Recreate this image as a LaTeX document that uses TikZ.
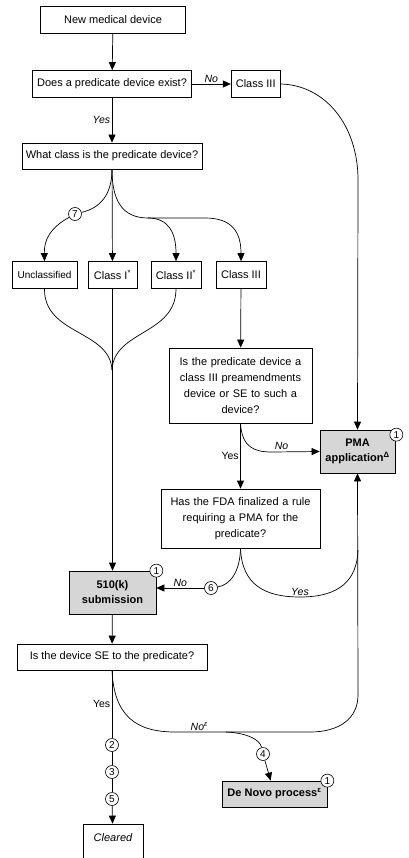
\documentclass[tikz,border=0pt]{standalone}
\usepackage{fontspec}
\setmainfont{Liberation Sans}
\usetikzlibrary{positioning,arrows.meta,calc}

\begin{document}
\begin{tikzpicture}[
    x=1pt, y=-1pt,
    font=\fontsize{11}{13}\selectfont,
    >={Triangle[length=8pt,width=7pt]},
    box/.style     = {rectangle, draw, line width=0.7pt, align=center,
                      minimum height=27pt, inner sep=2pt},
    query/.style   = {box, font=\fontsize{11}{16}\selectfont},
    outcome/.style = {box, fill=black!16, font=\fontsize{11}{15}\selectfont\bfseries},
    flow/.style    = {->, line width=0.7pt},
    link/.style    = {line width=0.7pt},
    tag/.style     = {font=\fontsize{10.5}{12}\selectfont\itshape, inner sep=1.5pt},
    uptag/.style   = {tag, font=\fontsize{10.5}{12}\selectfont\upshape},
    num/.style     = {circle, draw, fill=white, line width=0.6pt, minimum size=13pt,
                      inner sep=0pt, font=\fontsize{10}{12}\selectfont}
]

\clip (0,0) rectangle (408,858);

% --- Main column ----------------------------------------------------------
\node[box, minimum width=145pt]                  (new)   at (113,20)  {New medical device};
\node[box, minimum width=159pt]                  (exist) at (112,84)  {Does a predicate device exist?};
\node[box, minimum width=49pt, right=39pt of exist] (c3top)         {Class III};
\node[box, minimum width=180pt, minimum height=26pt] (what) at (112,156)
  {What class is the predicate device?};

% --- Predicate classes ----------------------------------------------------
\node[box, minimum width=65pt, font=\fontsize{10}{12}\selectfont] (uncl) at (44.5,275) {Unclassified};
\node[box, minimum width=49pt]                   (c1)    at (112.5,275) {Class I\textsuperscript{*}};
\node[box, minimum width=50pt]                   (c2)    at (176,275)   {Class II\textsuperscript{*}};
\node[box, minimum width=50pt]                   (c3mid) at (241,275)   {Class III};

% --- Class III questions --------------------------------------------------
\node[query, text width=139pt, minimum height=75pt] (q1) at (240.5,385.5)
  {Is the predicate device a\\ class III preamendments\\ device or SE to such a\\ device?};
\node[outcome, minimum width=75pt, minimum height=43pt] (pma) at (357.5,451.5)
  {PMA\\ application\textsuperscript{Δ}};
\node[query, text width=155pt, minimum height=59pt] (q2) at (240.5,518.5)
  {Has the FDA finalized a rule\\ requiring a PMA for the\\ predicate?};

% --- 510(k) path ----------------------------------------------------------
\node[outcome, minimum width=87pt, minimum height=43pt] (k510) at (112.5,592.5)
  {510(k)\\ submission};
\node[box, minimum width=190pt, minimum height=26pt] (se) at (112,657)
  {Is the device SE to the predicate?};
\node[outcome, minimum width=105pt, minimum height=26pt] (denovo) at (274.5,794)
  {De Novo process\textsuperscript{ε}};
\node[box, minimum width=60pt, minimum height=44pt, text depth=16pt,
      font=\fontsize{11}{13}\selectfont\itshape] (cleared) at (113,846) {Cleared};

% --- Numbered markers -----------------------------------------------------
\node[num] (seven) at (75,214)  {7};
\node[num] (six)   at (211,588) {6};
\node[num] (four)  at (263,754) {4};
\node[num] (two)   at (112,745) {2};
\node[num] (three) at (112,772) {3};
\node[num] (five)  at (112,799) {5};
\node[num] (pmaone) at ([xshift=1pt,yshift=-5pt]pma.north east) {1};
\node[num] (kone)   at (k510.north east)   {1};
\node[num] (dnone)  at (denovo.north east) {1};

\coordinate (fork)  at (148,218);
\coordinate (join)  at (112,370);
\coordinate (rise)  at (358,695);
\coordinate (split) at (226,732);

% --- Flows ----------------------------------------------------------------
\draw[flow] (new)   -- (exist);
\draw[flow] (exist) -- node[tag, above]{No} (c3top);
\draw[flow] (exist) -- node[tag, left]{Yes} (what);
\draw[flow] (c3top.east) .. controls (325,85) and (358,125) .. (358,180) -- (pma.north);

% branching to the classes
\draw[flow] (what) -- (c1);
\draw[link] (what.south) .. controls (112,195) and (100,208) .. (seven);
\draw[flow] (seven) .. controls (50,228) and (44,240) .. (uncl.north);
\draw[link] (what.south) .. controls (112,200) and (122,218) .. (fork);
\draw[flow] (fork) .. controls (168,218) and (176,232) .. (c2.north);
\draw[flow] (fork) -- (205,218) .. controls (232,218) and (241,232) .. (c3mid.north);

% merging into 510(k)
\draw[link] (uncl.south) .. controls (44,335) and (110,330) .. (join);
\draw[link] (c2.south)   .. controls (176,335) and (114,330) .. (join);
\draw[flow] (c1) -- (k510);

% class III questions
\draw[flow] (c3mid) -- (q1);
\draw[flow] (q1) -- node[uptag, left]{Yes} (q2);
\draw[flow] (q1.south) .. controls (242,448) and (255,452) .. (272,452)
            -- node[tag, above, pos=0.2]{No} (pma.west);
\draw[link] (q2.south) .. controls (240,572) and (230,585) .. (six);
\draw[flow] (six.west) -- node[tag, above]{No} (six.west -| k510.east);
\draw[link] (q2.south) .. controls (242,585) and (265,597) .. (300,597) node[tag, above]{Yes}
            .. controls (340,597) and (357,580) .. (358,550);
\draw[flow] (rise) -- (pma.south);

% SE question
\draw[flow] (k510) -- (se);
\draw[link] (se.south) .. controls (114,715) and (135,732) .. (175,732)
            -- node[tag, above, pos=0.18]{No\textsuperscript{ε}} (310,732)
            .. controls (340,732) and (358,718) .. (rise);
\draw[link] (split) .. controls (248,733) and (260,740) .. (four);
\draw[flow] (four) -- (denovo);

\draw[link] (se) -- node[uptag, left]{Yes} (two);
\draw[link] (two) -- (three);
\draw[link] (three) -- (five);
\draw[flow] (five) -- (cleared);

\end{tikzpicture}
\end{document}
